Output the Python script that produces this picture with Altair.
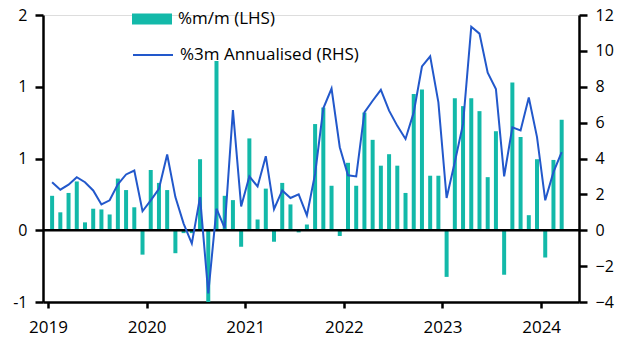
import altair as alt
import pandas as pd

# Monthly observations, Jan 2019 .. Mar 2024
months = [f"{y}-{m:02d}" for y in range(2019, 2025) for m in range(1, 13)][:63]

mm = [0.24, 0.125, 0.26, 0.34, 0.055, 0.15, 0.145, 0.11, 0.36, 0.28, 0.16, -0.17,
      0.42, 0.33, 0.28, -0.16, -0.02, -0.02, 0.495, -0.5, 1.18, 0.24, 0.21, -0.115,
      0.64, 0.075, 0.29, -0.08, 0.33, 0.18, -0.015, 0.04, 0.74, 0.855, 0.31, -0.04,
      0.47, 0.31, 0.82, 0.63, 0.45, 0.53, 0.45, 0.26, 0.95, 0.98, 0.38, 0.38,
      -0.325, 0.92, 0.865, 0.92, 0.83, 0.37, 0.69, -0.31, 1.03, 0.65, 0.105, 0.495,
      -0.19, 0.49, 0.77]

ann = [2.68, 2.26, 2.54, 2.96, 2.68, 2.22, 1.44, 1.67, 2.56, 3.11, 3.33, 1.06,
       1.67, 2.31, 4.22, 1.85, 0.37, -0.74, 1.85, -3.52, 1.2, 0.12, 6.7, 1.33,
       3.0, 2.44, 4.13, 1.17, 2.22, 1.8, 2.0, 0.83, 3.15, 6.8, 7.9, 4.63,
       3.06, 3.0, 6.57, 7.22, 7.83, 6.67, 5.82, 5.09, 6.57, 9.13, 9.69, 7.13,
       1.8, 3.8, 5.93, 11.35, 10.96, 8.78, 7.87, 3.0, 5.74, 5.56, 7.4, 5.19,
       1.67, 3.24, 4.35]

year_ticks = [0, 12, 24, 36, 48, 60]
lhs_ticks = [-0.5, 0, 0.5, 1, 1.5]
rhs_ticks = [-4, -2, 0, 2, 4, 6, 8, 10, 12]
series_bar = "%m/m (LHS)"
series_line = "%3m Annualised (RHS)"

TEAL = "#13B9A9"
BLUE = "#2258CB"
FONT = "Open Sans"

df = pd.DataFrame({"month": months, "mm": mm, "ann": ann})
df["t"] = [i + 0.5 for i in range(len(months))]
df["s1"] = series_bar
df["s2"] = series_line

axis_style = dict(domainColor="black", domainWidth=2.5, tickColor="black", tickWidth=2.5,
                  labelFont=FONT, labelColor="black", grid=False, title=None)

x = alt.X("t:Q", scale=alt.Scale(domain=[0, 64], nice=False, zero=False),
          axis=alt.Axis(values=year_ticks, labelExpr="2019 + round(datum.value/12)",
                        tickSize=6, labelPadding=11, labelFontSize=17, **axis_style))

lhs_scale = alt.Scale(domain=[-0.5, 1.5], nice=False, zero=False)
rhs_scale = alt.Scale(domain=[-4, 12], nice=False, zero=False)

legend_style = dict(orient="none", legendX=89, title=None, labelFont=FONT, labelFontSize=17,
                    labelColor="black", labelOffset=6, padding=0, labelLimit=0)

bars = alt.Chart(df).mark_bar(size=4, clip=True).encode(
    x=x,
    y=alt.Y("mm:Q", scale=lhs_scale,
            axis=alt.Axis(orient="left", values=lhs_ticks, tickSize=8, labelPadding=8,
                          labelFontSize=16,
                          labelExpr="datum.value == 1.5 ? '2' : datum.value == 1 ? '1' : datum.value == 0.5 ? '1' : datum.value == 0 ? '0' : '-1'",
                          **axis_style)),
    color=alt.Color("s1:N", scale=alt.Scale(range=[TEAL]),
                    legend=alt.Legend(legendY=-16, symbolType="M-1,-0.28H1V0.28H-1Z",
                                      symbolSize=1600, symbolStrokeWidth=0, **legend_style)),
)

zero = alt.Chart(pd.DataFrame({"z": [0]})).mark_rule(color="black", strokeWidth=2.5).encode(
    y=alt.Y("z:Q", scale=rhs_scale, axis=None)
)

line = alt.Chart(df).mark_line(strokeWidth=2, color=BLUE).encode(
    x=x,
    y=alt.Y("ann:Q", scale=rhs_scale,
            axis=alt.Axis(orient="right", values=rhs_ticks, tickSize=8, labelPadding=8,
                          labelFontSize=16, **axis_style)),
    stroke=alt.Stroke("s2:N", scale=alt.Scale(range=[BLUE]),
                      legend=alt.Legend(legendY=19, symbolType="stroke", symbolSize=1600,
                                        symbolStrokeWidth=2, **legend_style)),
)

chart = alt.layer(bars, zero, line).resolve_scale(y="independent", color="independent").properties(
    width=536, height=287,
    autosize=alt.AutoSizeParams(type="none"),
    padding={"left": 43, "top": 15, "right": 48, "bottom": 50},
).configure_view(stroke=None).configure(font=FONT)

chart.save("out.html", embed_options={"renderer": "svg", "actions": False})
